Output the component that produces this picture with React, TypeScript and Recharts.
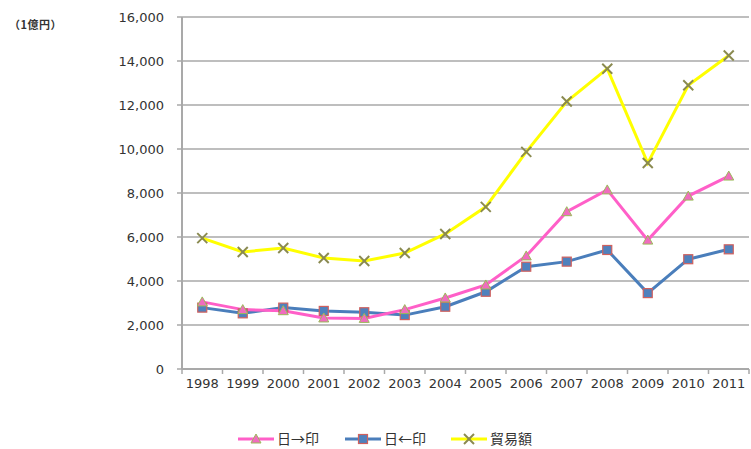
import React from "react";
import { LineChart, Line, XAxis, YAxis, CartesianGrid } from "recharts";

const years = ["1998","1999","2000","2001","2002","2003","2004","2005","2006","2007","2008","2009","2010","2011"];
const exportsToIndia = [3050, 2700, 2650, 2320, 2300, 2700, 3230, 3820, 5140, 7150, 8140, 5860, 7860, 8770];
const importsFromIndia = [2790, 2530, 2790, 2640, 2580, 2450, 2830, 3510, 4650, 4880, 5410, 3450, 4990, 5440];
const tradeTotal = [5950, 5320, 5500, 5045, 4910, 5270, 6140, 7370, 9870, 12160, 13650, 9360, 12900, 14250];
const yTicks = [0, 2000, 4000, 6000, 8000, 10000, 12000, 14000, 16000];
const seriesNames = ["日→印", "日←印", "貿易額"];

const data = years.map((y, i) => ({
  year: y,
  exp: exportsToIndia[i],
  imp: importsFromIndia[i],
  total: tradeTotal[i],
}));

const W = 751;
const H = 449;
const LEFT = 182;
const RIGHT = 2;
const BAND = (W - LEFT - RIGHT) / years.length;
const NUM_FONT = "'DejaVu Sans', Verdana, sans-serif";
const JP_FONT = "'Noto Sans CJK JP', sans-serif";
const GRID = "#a9a9a9";

const PINK = "#ff5fc8";
const BLUE = "#4a7ebb";
const YELLOW = "#ffff00";

function TriangleDot(props: any) {
  const { cx, cy } = props;
  if (cx == null || cy == null) return null;
  const s = 5;
  return (
    <polygon
      points={`${cx},${cy - s} ${cx + s},${cy + s * 0.8} ${cx - s},${cy + s * 0.8}`}
      fill="#f06cbf"
      stroke="#9bbb59"
      strokeWidth={1}
    />
  );
}

function SquareDot(props: any) {
  const { cx, cy } = props;
  if (cx == null || cy == null) return null;
  const s = 4.5;
  return <rect x={cx - s} y={cy - s} width={s * 2} height={s * 2} fill="#4f81bd" stroke="#d0605d" strokeWidth={1.2} />;
}

function XDot(props: any) {
  const { cx, cy } = props;
  if (cx == null || cy == null) return null;
  const s = 5;
  return (
    <g>
      <line x1={cx - s} y1={cy - s} x2={cx + s} y2={cy + s} stroke="#8a8a50" strokeWidth={2} />
      <line x1={cx - s} y1={cy + s} x2={cx + s} y2={cy - s} stroke="#8a8a50" strokeWidth={2} />
    </g>
  );
}

function XTick(props: any) {
  const { x, y, payload, index } = props;
  const axisY = y - 9;
  return (
    <g>
      <line x1={x - BAND / 2} y1={axisY} x2={x - BAND / 2} y2={axisY + 5} stroke={GRID} strokeWidth={1.5} />
      {index === years.length - 1 && (
        <line x1={x + BAND / 2} y1={axisY} x2={x + BAND / 2} y2={axisY + 5} stroke={GRID} strokeWidth={1.5} />
      )}
      <text x={x} y={y} dy="0.8em" textAnchor="middle" fontFamily={NUM_FONT} fontSize={13} fill="#333">
        {payload.value}
      </text>
    </g>
  );
}

const fmt = (v: number) => v.toLocaleString("en-US");

function LegendIcon({ kind, color }: { kind: string; color: string }) {
  return (
    <svg width={36} height={14} style={{ display: "block" }}>
      <line x1={0} y1={7} x2={36} y2={7} stroke={color} strokeWidth={3} />
      {kind === "tri" && <TriangleDot cx={18} cy={7} />}
      {kind === "sq" && <SquareDot cx={18} cy={7} />}
      {kind === "x" && <XDot cx={18} cy={7} />}
    </svg>
  );
}

const legendItems = [
  { name: seriesNames[0], kind: "tri", color: PINK, left: 238 },
  { name: seriesNames[1], kind: "sq", color: BLUE, left: 345 },
  { name: seriesNames[2], kind: "x", color: YELLOW, left: 451 },
];

export default function App() {
  return (
    <div style={{ position: "absolute", left: 0, top: 0, width: W, height: H, background: "#fff", overflow: "hidden" }}>
      <div
        style={{
          position: "absolute",
          left: 9,
          top: 18,
          fontFamily: JP_FONT,
          fontSize: 11,
          fontWeight: 700,
          letterSpacing: 0.5,
          color: "#333",
          whiteSpace: "nowrap",
          lineHeight: "12px",
        }}
      >
        （1億円）
      </div>
      <LineChart width={W} height={H} data={data} margin={{ top: 17, right: RIGHT, left: 0, bottom: 50 }}>
        <CartesianGrid vertical={false} stroke={GRID} strokeWidth={1.5} />
        <XAxis
          dataKey="year"
          height={30}
          interval={0}
          padding={{ left: BAND / 2, right: BAND / 2 }}
          tickLine={false}
          tickSize={5}
          tickMargin={4}
          axisLine={{ stroke: GRID, strokeWidth: 2 }}
          tick={<XTick />}
        />
        <YAxis
          width={LEFT}
          domain={[0, 16000]}
          ticks={yTicks}
          interval={0}
          tickFormatter={fmt}
          tickSize={5}
          tickMargin={13}
          tickLine={{ stroke: GRID, strokeWidth: 1.5 }}
          axisLine={{ stroke: GRID, strokeWidth: 2 }}
          tick={{ fontFamily: NUM_FONT, fontSize: 13, fill: "#333" }}
        />
        <Line dataKey="total" name={seriesNames[2]} stroke={YELLOW} strokeWidth={3} dot={<XDot />} isAnimationActive={false} />
        <Line dataKey="imp" name={seriesNames[1]} stroke={BLUE} strokeWidth={3} dot={<SquareDot />} isAnimationActive={false} />
        <Line dataKey="exp" name={seriesNames[0]} stroke={PINK} strokeWidth={3} dot={<TriangleDot />} isAnimationActive={false} />
      </LineChart>
      {legendItems.map((it) => (
        <div
          key={it.name}
          style={{
            position: "absolute",
            left: it.left,
            top: 430,
            height: 17,
            display: "flex",
            alignItems: "center",
            gap: 3,
            fontFamily: JP_FONT,
            fontSize: 14,
            color: "#333",
            whiteSpace: "nowrap",
            lineHeight: "17px",
          }}
        >
          <LegendIcon kind={it.kind} color={it.color} />
          <span>{it.name}</span>
        </div>
      ))}
    </div>
  );
}
